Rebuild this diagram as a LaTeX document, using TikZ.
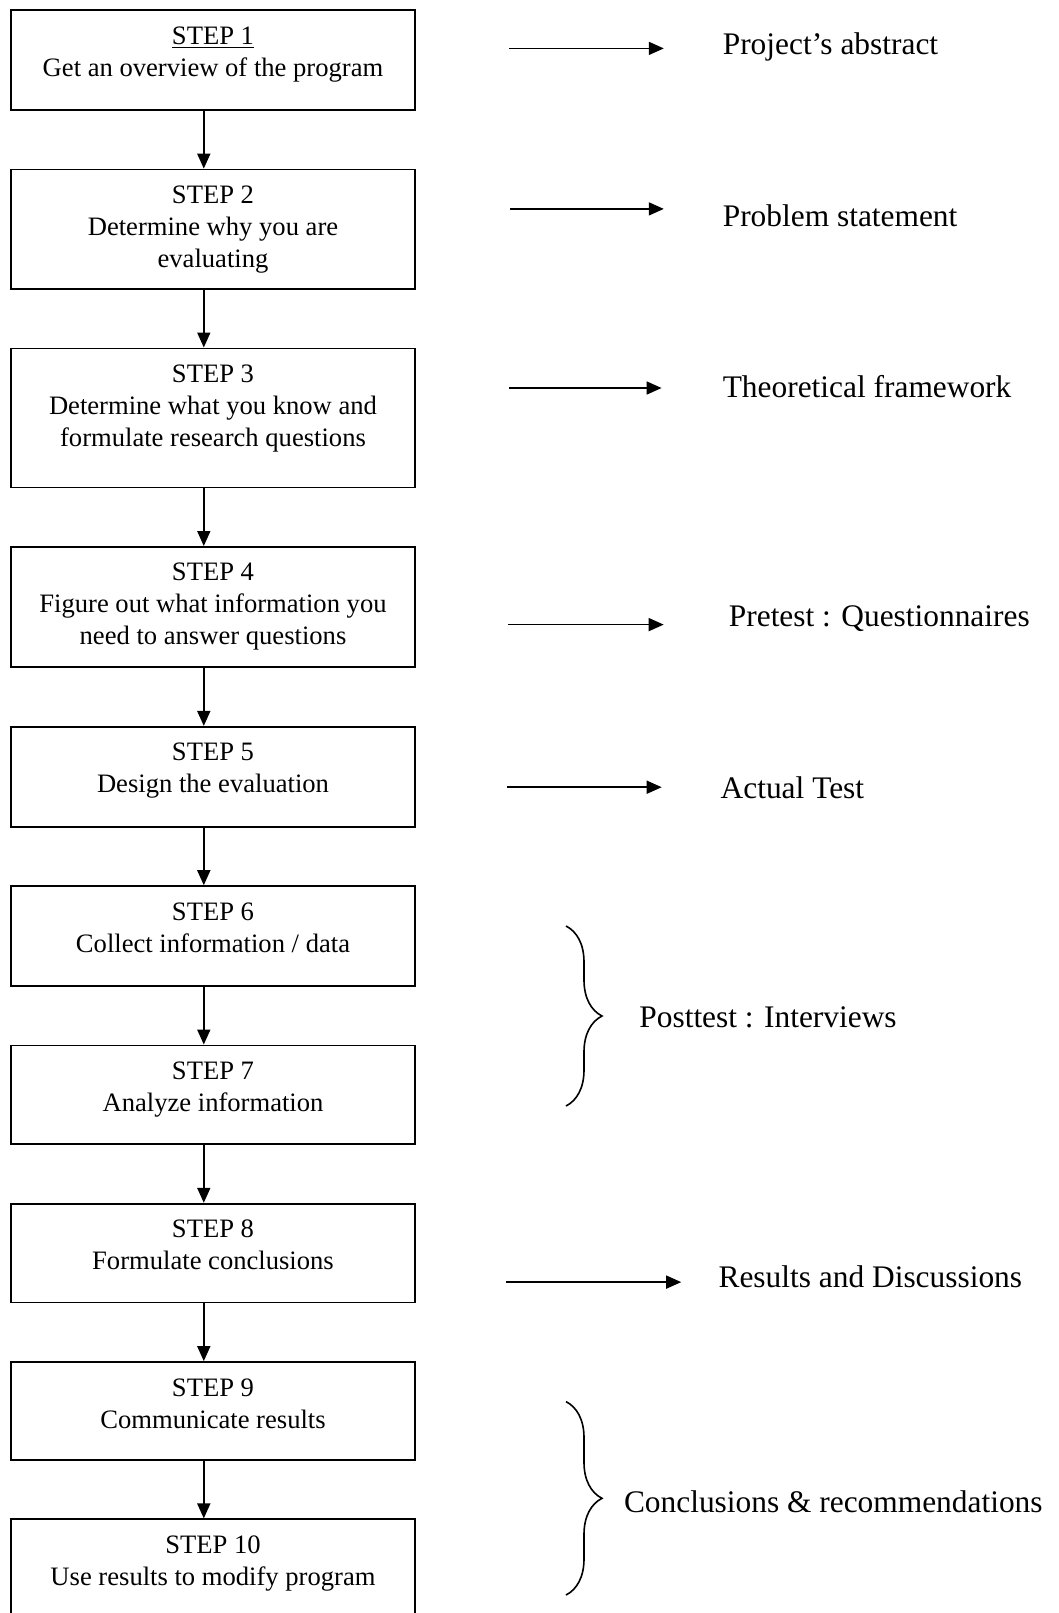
\documentclass[tikz,border=0pt]{standalone}
\usepackage{fontspec}
\setmainfont{Liberation Serif}
\usetikzlibrary{arrows.meta,positioning,decorations.pathreplacing}

\begin{document}
\begin{tikzpicture}[x=0.5pt,y=-0.5pt,>={Triangle[length=7.5pt,width=6.5pt]},node distance=28.85pt,
  stepbox/.style={draw,line width=0.9pt,minimum width=201.7pt,align=center,anchor=north,
    inner xsep=0pt,inner ysep=7pt,text height=26pt,text depth=#1,font=\fontsize{13.3}{16}\selectfont},
  threelines/.style={text height=42pt},
  result/.style={anchor=west,inner sep=0pt,font=\fontsize{15.7}{19}\selectfont},
  toarrow/.style={->,line width=0.8pt,shorten >=#1},
  curly/.style={decorate,decoration={brace,amplitude=18pt},line width=0.8pt}]

\clip (0,0) rectangle (1059,1613);

% steps
\node[stepbox=9.9pt] (s1) at (213,9.3) {\underline{STEP 1}\\Get an overview of the program};
\node[stepbox=3.7pt,threelines] (s2) [below=of s1] {STEP 2\\Determine why you are\\evaluating};
\node[stepbox=13.5pt,threelines] (s3) [below=of s2] {STEP 3\\Determine what you know and\\formulate research questions};
\node[stepbox=4.2pt,threelines] (s4) [below=of s3] {STEP 4\\Figure out what information you\\need to answer questions};
\node[stepbox=9.9pt] (s5) [below=of s4] {STEP 5\\Design the evaluation};
\node[stepbox=9.9pt] (s6) [below=of s5] {STEP 6\\Collect information / data};
\node[stepbox=9.4pt] (s7) [below=of s6] {STEP 7\\Analyze information};
\node[stepbox=9.4pt] (s8) [below=of s7] {STEP 8\\Formulate conclusions};
\node[stepbox=8.9pt] (s9) [below=of s8] {STEP 9\\Communicate results};
\node[stepbox=9.9pt] (s10) [below=of s9] {STEP 10\\Use results to modify program};

\foreach \a/\b in {s1/s2,s2/s3,s3/s4,s4/s5,s5/s6,s6/s7,s7/s8,s8/s9,s9/s10}
  \draw[->,line width=0.9pt] ([xshift=-4.6pt]\a.south) -- ([xshift=-4.6pt]\b.north);

% outcomes
\node[result] (t1) at (722.4,46.5) {Project's abstract};
\node[result] (t2) at (722.4,216.1) {Problem statement};
\node[result] (t3) at (722.4,386.9) {Theoretical framework};
\node[result] (t4) at (728.5,618.4) {Pretest : Questionnaires};
\node[result] (t5) at (720.3,788.2) {Actual Test};
\node[result] (t6) at (639,1017.7) {Posttest : Interviews};
\node[result] (t8) at (718.2,1277) {Results and Discussions};
\node[result] (t9) at (623.6,1501.3) {Conclusions \& recommendations};

\coordinate (f1) at (509.4,48.4);
\coordinate (f2) at (510.4,208.9);
\coordinate (f3) at (509.4,388);
\coordinate (f4) at (508.3,624.6);
\coordinate (f5) at (507.3,787.2);
\coordinate (f8) at (506.3,1282.1);

\draw[toarrow=29.3pt] (f1) -- (f1 -| t1.west);
\draw[toarrow=29.3pt] (f2) -- (f2 -| t2.west);
\draw[toarrow=30.4pt] (f3) -- (f3 -| t3.west);
\draw[toarrow=32.4pt] (f4) -- (f4 -| t4.west);
\draw[toarrow=29.3pt] (f5) -- (f5 -| t5.west);
\draw[toarrow=18.5pt] (f8) -- (f8 -| t8.west);

% braces
\draw[curly] (566,926) -- (566,1106);
\draw[curly] (566,1401.6) -- (566,1595);

\end{tikzpicture}
\end{document}
